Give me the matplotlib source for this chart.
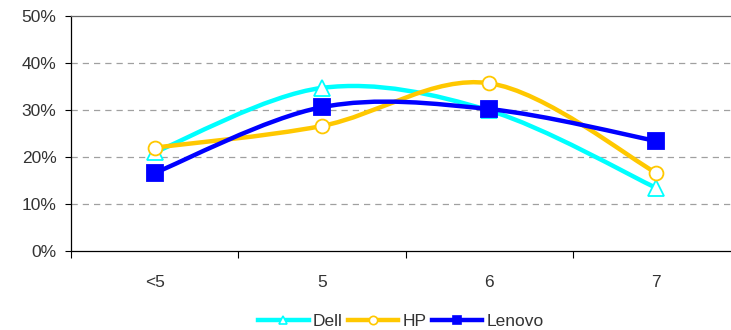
import numpy as np
import matplotlib.pyplot as plt
from matplotlib.path import Path
from matplotlib.patches import PathPatch
from matplotlib.lines import Line2D

plt.rcParams['font.family'] = ['Liberation Sans', 'DejaVu Sans']

categories = ["<5", "5", "6", "7"]
dell = [21.0, 34.7, 29.9, 13.4]
hp = [22.0, 26.6, 35.7, 16.6]
lenovo = [16.6, 30.6, 30.2, 23.4]


def smooth_path(xs, ys):
    # excel-style smoothed line: cubic bezier with 1/6 tangent
    pts = np.column_stack([xs, ys]).astype(float)
    n = len(pts)
    verts = [pts[0]]
    codes = [Path.MOVETO]
    for i in range(n - 1):
        p0 = pts[max(i - 1, 0)]
        p1 = pts[i]
        p2 = pts[i + 1]
        p3 = pts[min(i + 2, n - 1)]
        c1 = p1 + (p2 - p0) / 6.0
        c2 = p2 - (p3 - p1) / 6.0
        verts += [c1, c2, p2]
        codes += [Path.CURVE4] * 3
    return Path(verts, codes)


fig = plt.figure(figsize=(7.31, 3.30), dpi=100)
ax = fig.add_axes([71 / 731, 1 - 251 / 330, (740 - 71) / 731, (251 - 16) / 330])

x = np.arange(len(categories))
series = [
    ("Dell", dell, "#00FFFF", "^", 11, "white"),
    ("HP", hp, "#FFC800", "o", 10, "white"),
    ("Lenovo", lenovo, "#0000FF", "s", 11, "#0000FF"),
]
handles = []
for name, vals, col, mk, ms, fc in series:
    patch = PathPatch(smooth_path(x, vals), facecolor="none", edgecolor=col,
                      lw=3.2, capstyle="round", joinstyle="round", zorder=3)
    ax.add_patch(patch)
    ax.plot(x, vals, ls="none", marker=mk, ms=ms, mfc=fc, mec=col, mew=1.3, zorder=4)
    handles.append(Line2D([], [], color=col, lw=3.2, marker=mk, ms=6, mfc=fc, mec=col, mew=1.2))

txt = "#333333"
ax.set_xlim(-0.5, 3.5)
ax.set_ylim(0, 50)
ax.set_yticks([0, 10, 20, 30, 40, 50])
ax.set_yticklabels([f"{v}%" for v in [0, 10, 20, 30, 40, 50]], fontsize=12.5, color=txt)
ax.set_xticks(x)
ax.set_xticklabels(categories, fontsize=12.5, color=txt)
ax.set_xticks([-0.5, 0.5, 1.5, 2.5, 3.5], minor=True)
ax.tick_params(axis="x", which="major", length=0, pad=17)
ax.tick_params(axis="x", which="minor", length=5, width=0.8, direction="out")
ax.tick_params(axis="y", length=4.5, width=0.8, direction="out", pad=6)

for v in [10, 20, 30, 40]:
    ax.axhline(v, color="#A0A0A0", lw=0.9, ls=(0, (5, 4)), zorder=1)

ax.spines["top"].set_color("#666666")
ax.spines["top"].set_linewidth(0.9)
ax.spines["right"].set_visible(False)
ax.spines["left"].set_linewidth(0.9)
ax.spines["bottom"].set_linewidth(0.9)

fig.legend(handles, [s[0] for s in series], loc="center", bbox_to_anchor=(401 / 731, 1 - 321 / 330),
           ncol=3, frameon=False, fontsize=12.5, handlelength=2.9, handletextpad=0.25,
           columnspacing=0.3, labelcolor=txt, borderpad=0)

fig.savefig("out.png", dpi=100)
